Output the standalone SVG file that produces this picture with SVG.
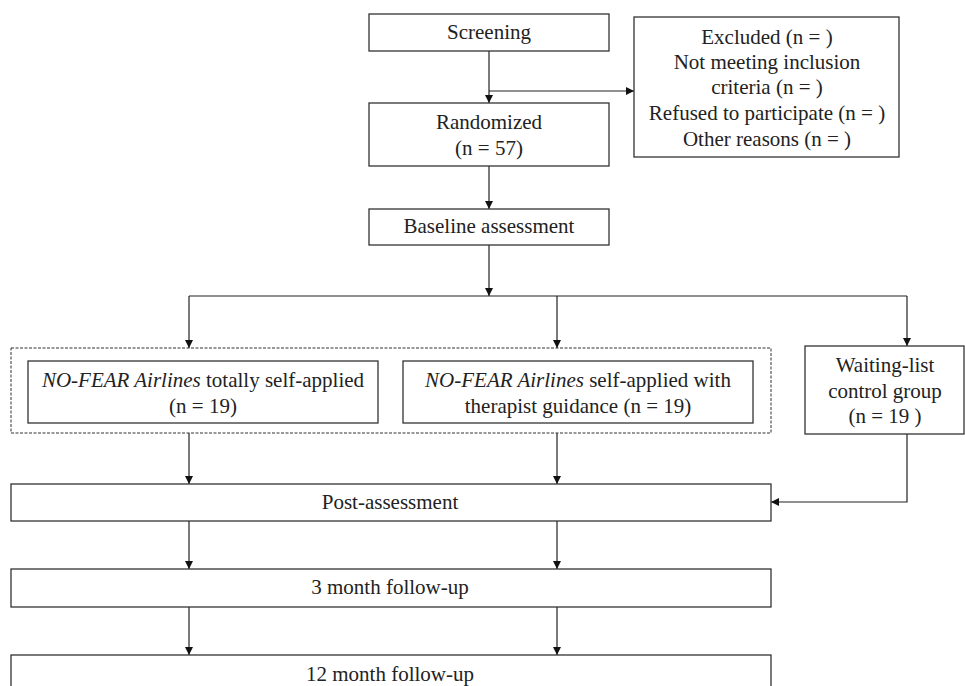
<svg xmlns="http://www.w3.org/2000/svg" width="965" height="686" viewBox="0 0 965 686">
<defs>
<marker id="arr" viewBox="0 0 10 10" refX="10" refY="5" markerWidth="8" markerHeight="8" markerUnits="userSpaceOnUse" orient="auto">
<path d="M0,0 L10,5 L0,10 z" fill="#111"/>
</marker>
<style>
.box{fill:#fff;stroke:#333;stroke-width:1.3}
.dash{fill:none;stroke:#333;stroke-width:1;stroke-dasharray:3,1.5}
.t{font-family:"Liberation Serif","Times New Roman",serif;font-size:21px;fill:#222;text-anchor:middle}
.c{fill:none;stroke:#222;stroke-width:1.2}
</style>
</defs>
<rect width="965" height="686" fill="#fff"/>
<g id="connectors">
<path class="c" d="M489,51 V103" marker-end="url(#arr)"/>
<path class="c" d="M489,91 H634" marker-end="url(#arr)"/>
<path class="c" d="M489,166 V209" marker-end="url(#arr)"/>
<path class="c" d="M489,245 V296" marker-end="url(#arr)"/>
<path class="c" d="M189,296 H907"/>
<path class="c" d="M189,296 V348" marker-end="url(#arr)"/>
<path class="c" d="M557,296 V348" marker-end="url(#arr)"/>
<path class="c" d="M907,296 V346" marker-end="url(#arr)"/>
<path class="c" d="M189,433 V484" marker-end="url(#arr)"/>
<path class="c" d="M557,433 V484" marker-end="url(#arr)"/>
<path class="c" d="M907,434 V502 H771" marker-end="url(#arr)"/>
<path class="c" d="M189,521 V569" marker-end="url(#arr)"/>
<path class="c" d="M557,521 V569" marker-end="url(#arr)"/>
<path class="c" d="M189,607 V655" marker-end="url(#arr)"/>
<path class="c" d="M557,607 V655" marker-end="url(#arr)"/>
</g>
<g id="screening">
<rect class="box" x="369" y="14" width="240" height="37"/>
<text class="t" x="489" y="39">Screening</text>
</g>
<g id="excluded">
<rect class="box" x="634" y="17" width="265" height="140"/>
<text class="t" x="767" y="44">Excluded (n = )</text>
<text class="t" x="767" y="69">Not meeting inclusion</text>
<text class="t" x="767" y="94">criteria (n = )</text>
<text class="t" x="767" y="120">Refused to participate (n = )</text>
<text class="t" x="767" y="146">Other reasons (n = )</text>
</g>
<g id="randomized">
<rect class="box" x="369" y="103" width="240" height="63"/>
<text class="t" x="489" y="129">Randomized</text>
<text class="t" x="489" y="155">(n = 57)</text>
</g>
<g id="baseline">
<rect class="box" x="369" y="209" width="240" height="36"/>
<text class="t" x="489" y="233">Baseline assessment</text>
</g>
<g id="intervention-group">
<rect class="dash" x="11" y="348" width="760" height="85"/>
</g>
<g id="self-applied">
<rect class="box" x="28" y="361" width="350" height="62"/>
<text class="t" x="203" y="387"><tspan font-style="italic">NO-FEAR Airlines</tspan> totally self-applied</text>
<text class="t" x="203" y="413">(n = 19)</text>
</g>
<g id="guided">
<rect class="box" x="403" y="361" width="350" height="62"/>
<text class="t" x="578" y="387"><tspan font-style="italic">NO-FEAR Airlines</tspan> self-applied with</text>
<text class="t" x="578" y="413">therapist guidance (n = 19)</text>
</g>
<g id="waiting-list">
<rect class="box" x="805" y="346" width="159" height="88"/>
<text class="t" x="885" y="372">Waiting-list</text>
<text class="t" x="885" y="398">control group</text>
<text class="t" x="885" y="423">(n = 19 )</text>
</g>
<g id="post">
<rect class="box" x="11" y="484" width="760" height="37"/>
<text class="t" x="390" y="509">Post-assessment</text>
</g>
<g id="followup3">
<rect class="box" x="11" y="569" width="760" height="38"/>
<text class="t" x="390" y="594">3 month follow-up</text>
</g>
<g id="followup12">
<rect class="box" x="11" y="655" width="760" height="40"/>
<text class="t" x="390" y="681">12 month follow-up</text>
</g>
</svg>
